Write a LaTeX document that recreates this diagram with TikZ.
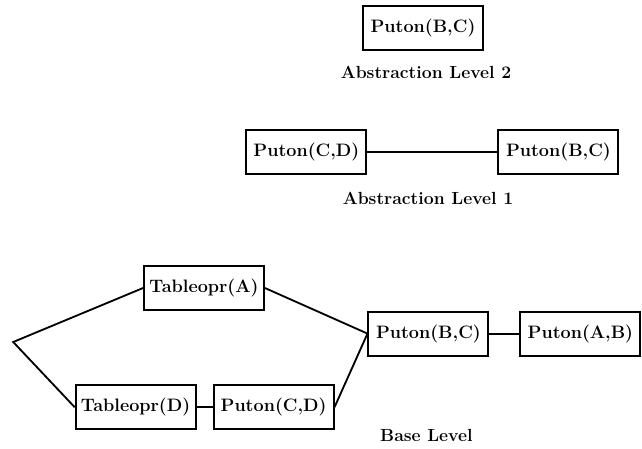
\documentclass[tikz,border=0pt]{standalone}
\usepackage{amsmath}
\usepackage{tikz}

\begin{document}
\begin{tikzpicture}[
    opbox/.style={draw, line width=1.3pt, minimum width=3cm, minimum height=1.1cm,
      inner sep=2pt, font=\fontsize{12.8}{15}\selectfont\bfseries},
    levellabel/.style={font=\fontsize{12.5}{15}\selectfont\bfseries},
    link/.style={line width=1.3pt}
  ]
  \useasboundingbox (0,0) rectangle (16.05,-11.2);

  % abstraction level 2
  \node[opbox] (topbc) at (10.575,-0.7) {Puton(B,C)};
  \node[levellabel] (lvltwo) at (10.65,-1.8) {Abstraction Level 2};

  % abstraction level 1
  \node[opbox] (onecd) at (7.66,-3.81) {Puton(C,D)};
  \node[opbox] (onebc) at (13.96,-3.81) {Puton(B,C)};
  \node[levellabel] (lvlone) at (10.7,-4.95) {Abstraction Level 1};
  \draw[link] (onecd) -- (onebc);

  % base level
  \coordinate (split) at (0.33,-8.55);
  \node[opbox] (taba) at (5.1,-7.2) {Tableopr(A)};
  \node[opbox] (tabd) at (3.39,-10.18) {Tableopr(D)};
  \node[opbox] (basecd) at (6.84,-10.18) {Puton(C,D)};
  \node[opbox] (basebc) at (10.71,-8.34) {Puton(B,C)};
  \node[opbox] (baseab) at (14.51,-8.34) {Puton(A,B)};
  \node[levellabel] (lvlbase) at (10.66,-10.88) {Base Level};

  \draw[link] (taba.west) -- (split) -- (tabd.west);
  \draw[link] (tabd) -- (basecd);
  \draw[link] (taba.east) -- (basebc.west) -- (basecd.east);
  \draw[link] (basebc) -- (baseab);

\end{tikzpicture}
\end{document}
